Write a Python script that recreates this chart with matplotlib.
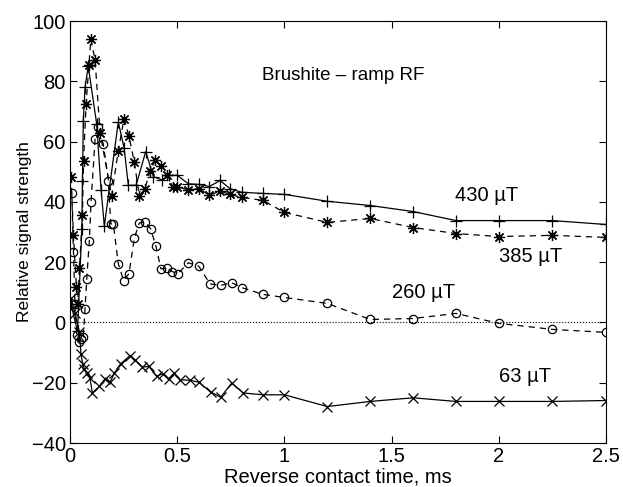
import numpy as np
import matplotlib
matplotlib.use('Agg')
import matplotlib.pyplot as plt

plt.rcParams['font.family'] = ['Liberation Sans', 'DejaVu Sans']

# 430 uT, solid with plus markers
t430 = [0.005, 0.035, 0.055, 0.058, 0.062, 0.07, 0.085, 0.124, 0.145, 0.16, 0.225, 0.252, 0.272,
        0.308, 0.353, 0.389, 0.428, 0.463, 0.5, 0.552, 0.603, 0.65, 0.7, 0.746, 0.8, 0.9, 1.0,
        1.2, 1.4, 1.6, 1.8, 2.0, 2.25, 2.5]
v430 = [6, -3, 31, 47, 67, 78, 85, 66, 44, 32, 66.5, 58, 45.5,
        45.5, 56.7, 48.4, 47.3, 48.8, 48.8, 46, 45.8, 45.1, 47.1, 44.4, 43.2, 42.8, 42.5,
        40.2, 38.8, 36.8, 33.8, 33.8, 33.8, 32.5]

# 385 uT, dashed with asterisks
t385 = [0.005, 0.016, 0.03, 0.036, 0.044, 0.058, 0.063, 0.075, 0.088, 0.097, 0.117, 0.14, 0.194,
        0.225, 0.252, 0.275, 0.3, 0.323, 0.35, 0.373, 0.398, 0.424, 0.451, 0.48, 0.5, 0.552,
        0.6, 0.65, 0.7, 0.746, 0.8, 0.9, 1.0, 1.2, 1.4, 1.6, 1.8, 2.0, 2.25, 2.5]
v385 = [48.4, 28.9, 11.7, 6, 18, 35.5, 53.7, 72.6, 85.3, 94, 87, 63, 42,
        57, 67.6, 61.7, 53.2, 42, 44.4, 50.3, 53.8, 52, 48.8, 45, 45, 44,
        44.4, 42.2, 43.6, 42.5, 41.5, 40.5, 36.5, 33.2, 34.5, 31.5, 29.5, 28.5, 28.9, 28.2]

# 260 uT, dashed with circles
t260 = [0.008, 0.016, 0.023, 0.031, 0.042, 0.052, 0.062, 0.07, 0.078, 0.09, 0.098, 0.117, 0.13,
        0.155, 0.179, 0.19, 0.202, 0.225, 0.25, 0.275, 0.3, 0.323, 0.35, 0.376, 0.401, 0.424,
        0.451, 0.477, 0.502, 0.552, 0.6, 0.653, 0.703, 0.754, 0.804, 0.9, 1.0, 1.2, 1.4, 1.6,
        1.8, 2.0, 2.25, 2.5]
v260 = [43, 23.5, 6, -4.3, -6.5, -5.5, -4.9, 4.5, 14.5, 27, 40, 61, 65,
        59.3, 47, 32.7, 32.7, 19.5, 13.9, 16.2, 28, 33, 33.3, 31.1, 25.2, 17.8,
        18, 16.9, 16.1, 19.8, 18.7, 12.8, 12.3, 13.2, 11.5, 9.3, 8.3, 6.3, 1, 1.3,
        3, -0.3, -2.3, -3.3]

# 63 uT, solid with crosses
t63 = [0.005, 0.023, 0.044, 0.051, 0.059, 0.067, 0.078, 0.093, 0.104, 0.137, 0.163, 0.187, 0.207,
       0.236, 0.28, 0.303, 0.337, 0.368, 0.404, 0.432, 0.46, 0.485, 0.513, 0.56, 0.6, 0.656,
       0.703, 0.754, 0.808, 0.9, 1.0, 1.2, 1.4, 1.6, 1.8, 2.0, 2.25, 2.5]
v63 = [8, 3.1, -3.2, -10.4, -13.7, -15.4, -16.8, -18.4, -23.4, -21.2, -18.7, -19.8, -16.8,
       -13.7, -11, -12.4, -14.8, -14.6, -17.9, -17, -18.7, -16.8, -19, -19.2, -19.8, -23.1,
       -24.8, -20.1, -23.4, -24, -24, -27.9, -26.2, -25, -26.2, -26.2, -26.2, -25.9]

fig = plt.figure(figsize=(6.23, 4.87), dpi=100)
ax = fig.add_axes([0.1124, 0.0903, 0.8604, 0.8665])

lw = 0.9
ax.plot([0, 2.5], [0, 0], ':', color='k', lw=0.8)
ax.plot(t430, v430, '-', color='k', lw=lw, marker='+', ms=8, mew=0.9)
ax.plot(t385, v385, '--', color='k', lw=lw, dashes=(5, 4), marker=(8, 2, 0), ms=8, mew=0.9)
ax.plot(t260, v260, '--', color='k', lw=lw, dashes=(5, 4), marker='o', ms=6, mfc='none', mew=0.9)
ax.plot(t63, v63, '-', color='k', lw=lw, marker='x', ms=7, mew=0.9)

ax.text(0.895, 82, 'Brushite \u2013 ramp RF', fontsize=13.5, va='center', ha='left')
ax.text(1.796, 42, '430 \u00b5T', fontsize=14.5, va='center', ha='left')
ax.text(2.0, 22, '385 \u00b5T', fontsize=14.5, va='center', ha='left')
ax.text(1.5, 10, '260 \u00b5T', fontsize=14.5, va='center', ha='left')
ax.text(2.0, -18, '63 \u00b5T', fontsize=14.5, va='center', ha='left')

ax.set_xlim(0, 2.5)
ax.set_ylim(-40, 100)
ax.set_xticks([0, 0.5, 1, 1.5, 2, 2.5])
ax.set_xticklabels(['0', '0.5', '1', '1.5', '2', '2.5'])
ax.set_yticks(np.arange(-40, 101, 20))
ax.tick_params(direction='in', top=True, right=True, labelsize=14.5, length=5, width=0.8, pad=3)
for s in ax.spines.values():
    s.set_linewidth(0.8)

ax.set_xlabel('Reverse contact time, ms', fontsize=14.5, labelpad=1)
ax.set_ylabel('Relative signal strength', fontsize=12.5, labelpad=0)

fig.savefig('out.png', dpi=100)
